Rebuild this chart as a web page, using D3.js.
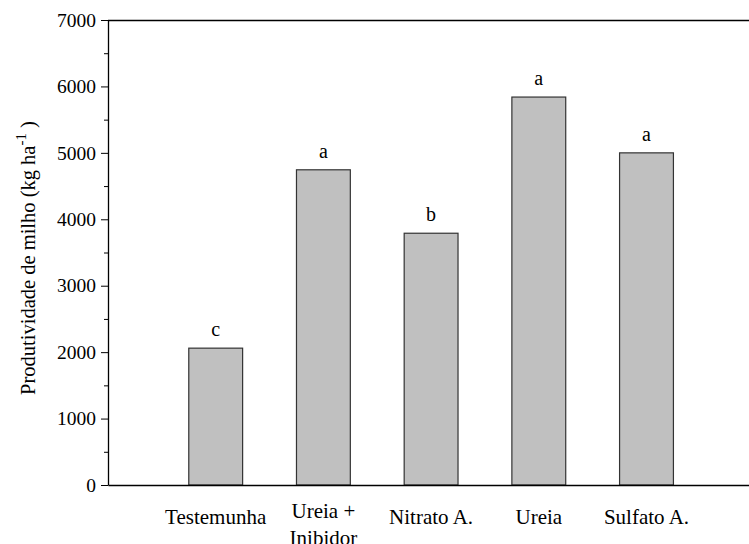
<!DOCTYPE html>
<html>
<head>
<meta charset="utf-8">
<script src="https://cdn.jsdelivr.net/npm/d3@7"></script>
<style>
  body { margin: 0; background: #fff; }
  text { font-family: "Liberation Serif", "Times New Roman", serif; fill: #000; }
</style>
</head>
<body>
<svg id="chart" width="749" height="544"></svg>
<script>
const categories = [["Testemunha"], ["Ureia +", "Inibidor"], ["Nitrato A."], ["Ureia"], ["Sulfato A."]];
const values = [2060, 4745, 3790, 5840, 5000];
const letters = ["c", "a", "b", "a", "a"];
const yTicks = [0, 1000, 2000, 3000, 4000, 5000, 6000, 7000];

const svg = d3.select("#chart");
const mLeft = 108, mTop = 20, mBottom = 485, slot = 107.7;
const serif = "Liberation Serif";

const x = d3.scaleLinear().domain([0, 6]).range([mLeft, mLeft + 6 * slot]);
const y = d3.scaleLinear().domain([0, 7000]).range([mBottom, mTop]);
const barW = slot * 0.5;

// frame: top line and baseline run off to the right edge
svg.append("line").attr("x1", mLeft).attr("x2", x(6)).attr("y1", mTop + 0.5).attr("y2", mTop + 0.5)
  .attr("stroke", "#000").attr("stroke-width", 1.3);

const bars = svg.append("g");
bars.selectAll("rect").data(values).join("rect")
  .attr("x", (d, i) => x(i + 1) - barW / 2)
  .attr("y", d => y(d))
  .attr("width", barW)
  .attr("height", d => mBottom - y(d))
  .attr("fill", "#c0c0c0")
  .attr("stroke", "#333")
  .attr("stroke-width", 1.2);

svg.append("g").attr("transform", `translate(0,${mBottom})`)
  .call(d3.axisBottom(x).tickValues([]).tickSizeOuter(0))
  .call(g => g.select(".domain").attr("stroke", "#000").attr("stroke-width", 1.3));

// y axis with minor ticks every 500
const yAxis = svg.append("g").attr("transform", `translate(${mLeft},0)`);
yAxis.call(d3.axisLeft(y).tickValues(yTicks).tickSize(7).tickSizeOuter(0).tickPadding(5).tickFormat(d3.format("d")))
  .attr("font-family", serif)
  .call(g => g.select(".domain").attr("stroke-width", 1.3))
  .call(g => g.selectAll(".tick text").attr("font-size", 19.5));
yAxis.selectAll(".minor").data(d3.range(500, 7000, 1000)).join("line")
  .attr("class", "minor")
  .attr("x1", -4).attr("x2", 0)
  .attr("y1", d => y(d) + 0.5).attr("y2", d => y(d) + 0.5)
  .attr("stroke", "#000");

// significance letters
svg.append("g").selectAll("text").data(values).join("text")
  .attr("x", (d, i) => x(i + 1))
  .attr("y", d => y(d) - 12)
  .attr("text-anchor", "middle")
  .attr("font-family", serif)
  .attr("font-size", 20)
  .text((d, i) => letters[i]);

// category labels
const cat = svg.append("g").selectAll("text").data(categories).join("text")
  .attr("text-anchor", "middle")
  .attr("font-family", serif)
  .attr("font-size", 21)
  .attr("y", d => d.length > 1 ? 518 : 524);
cat.selectAll("tspan").data((d, i) => d.map(t => ({ t, i }))).join("tspan")
  .attr("x", d => x(d.i + 1))
  .attr("dy", (d, j) => j ? 27 : 0)
  .text(d => d.t);

// y label
const yl = svg.append("text")
  .attr("transform", `translate(35,258) rotate(-90)`)
  .attr("text-anchor", "middle")
  .attr("font-family", serif)
  .attr("font-size", 20.5);
yl.append("tspan").text("Produtividade de milho (kg ha");
yl.append("tspan").attr("font-size", 15).attr("dy", -9).text("-1");
yl.append("tspan").attr("dy", 9).text(" )");
</script>
</body>
</html>
